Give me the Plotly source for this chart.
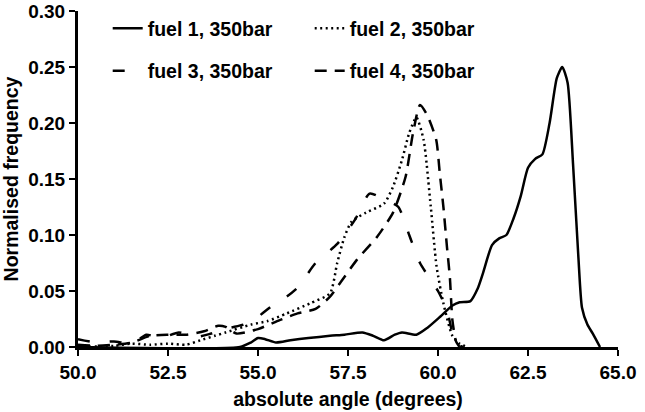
import plotly.graph_objects as go

# ---- data ----
f1_x = [50.0, 54.5, 54.8, 55.0, 55.2, 55.5, 55.9, 56.4, 57.0, 57.4, 57.9, 58.2, 58.5, 58.8, 59.0, 59.4,
        59.7, 60.06, 60.4, 60.6, 60.9, 61.1, 61.25, 61.5, 61.7, 61.9, 62.1, 62.3, 62.5, 62.7, 62.9,
        63.1, 63.3, 63.45, 63.6, 63.75, 63.9, 64.0, 64.15, 64.3, 64.5]
f1_y = [0.0, 0.0, 0.004, 0.008, 0.007, 0.004, 0.006, 0.008, 0.010, 0.011, 0.013, 0.010, 0.006, 0.011, 0.013, 0.011,
        0.017, 0.027, 0.037, 0.040, 0.041, 0.052, 0.066, 0.091, 0.097, 0.100, 0.115, 0.135, 0.160, 0.168, 0.172,
        0.200, 0.240, 0.250, 0.236, 0.164, 0.080, 0.035, 0.020, 0.012, 0.0]

f2_x = [50.0, 51.0, 51.5, 52.0, 52.5, 53.0, 53.4, 53.8, 54.1, 54.8, 55.25, 55.8, 56.45, 57.0, 57.2, 57.4,
        57.6, 58.0, 58.5, 58.75, 59.0, 59.2, 59.4, 59.6, 59.8, 59.96, 60.15, 60.4, 60.6, 60.8]
f2_y = [0.0, 0.001, 0.003, 0.002, 0.003, 0.002, 0.006, 0.010, 0.013, 0.020, 0.023, 0.030, 0.039, 0.048, 0.075, 0.098,
        0.112, 0.120, 0.128, 0.143, 0.167, 0.191, 0.205, 0.185, 0.125, 0.072, 0.039, 0.010, 0.003, 0.0]

f3_x = [50.0, 50.5, 51.0, 51.5, 51.9, 52.3, 52.8, 53.3, 53.7, 54.2, 54.6, 55.0, 55.4, 55.8, 56.1, 56.6,
        57.2, 57.7, 58.1, 58.5, 58.9, 59.2, 59.5, 60.0, 60.25, 60.4, 60.5, 60.7]
f3_y = [0.007, 0.004, 0.005, 0.003, 0.011, 0.008, 0.013, 0.009, 0.012, 0.017, 0.020, 0.027, 0.037, 0.045, 0.053, 0.075,
        0.092, 0.114, 0.137, 0.132, 0.125, 0.100, 0.075, 0.050, 0.033, 0.012, 0.003, 0.0]

f4_x = [50.0, 50.5, 51.0, 51.5, 52.0, 52.5, 53.0, 53.5, 53.9, 54.1, 54.4, 55.0, 55.6, 56.1, 56.6, 57.0,
        57.3, 57.75, 58.3, 58.75, 59.1, 59.3, 59.5, 59.7, 59.95, 60.05, 60.15, 60.25, 60.33, 60.4, 60.5, 60.6]
f4_y = [0.002, 0.001, 0.002, 0.004, 0.010, 0.011, 0.011, 0.014, 0.019, 0.018, 0.012, 0.016, 0.024, 0.030, 0.034, 0.045,
        0.058, 0.078, 0.098, 0.120, 0.152, 0.190, 0.216, 0.207, 0.185, 0.155, 0.125, 0.089, 0.062, 0.024, 0.005, 0.0]

names = ["fuel 1, 350bar", "fuel 2, 350bar", "fuel 3, 350bar", "fuel 4, 350bar"]

x_ticks = [50.0, 52.5, 55.0, 57.5, 60.0, 62.5, 65.0]
y_ticks = [0.0, 0.05, 0.10, 0.15, 0.20, 0.25, 0.30]

FONT = "Liberation Sans, Arial, sans-serif"

fig = go.Figure()
series = [
    (f1_x, f1_y, names[0], dict(color="black", width=2.5, dash="solid"), "legend"),
    (f2_x, f2_y, names[1], dict(color="black", width=2.5, dash="2px,3.5px"), "legend"),
    (f3_x, f3_y, names[2], dict(color="black", width=2.5, dash="12px,20px"), "legend2"),
    (f4_x, f4_y, names[3], dict(color="black", width=2.5, dash="12px,8px"), "legend2"),
]
for xs, ys, nm, ln, lg in series:
    ln = dict(ln, shape="spline", smoothing=0.6)
    fig.add_trace(go.Scatter(x=xs, y=ys, name=nm, mode="lines", line=ln, legend=lg))

lfont = dict(family=FONT, size=19.5, color="black", weight="bold")
legend_common = dict(
    orientation="h", xanchor="left", yanchor="middle",
    font=lfont,
    bgcolor="rgba(0,0,0,0)", entrywidth=157, entrywidthmode="pixels",
    itemwidth=30, traceorder="normal",
)
tfont = dict(family=FONT, size=19, color="black", weight="bold")
fig.update_layout(
    width=645, height=412,
    margin=dict(l=78, r=27, t=11, b=65, autoexpand=False),
    paper_bgcolor="white", plot_bgcolor="white",
    font=dict(family=FONT, size=19, color="black", weight="bold"),
    legend=dict(legend_common, x=0.055, y=0.948),
    legend2=dict(legend_common, x=0.055, y=0.821),
    xaxis=dict(
        range=[50, 65], tickvals=x_ticks, tickformat=".1f", automargin=False,
        showline=True, linecolor="black", linewidth=3,
        ticks="outside", ticklen=6, tickwidth=2, tickcolor="black",
        showgrid=False, zeroline=False,
        tickfont=tfont,
        title=dict(text="absolute angle (degrees)", standoff=11,
                   font=dict(family=FONT, size=19.5, color="black", weight="bold")),
    ),
    yaxis=dict(
        range=[0, 0.30], tickvals=y_ticks, tickformat=".2f", automargin=False,
        showline=True, linecolor="black", linewidth=3,
        ticks="outside", ticklen=6, tickwidth=2, tickcolor="black",
        showgrid=False, zeroline=False,
        tickfont=tfont,
        title=dict(text="Normalised frequency", standoff=6,
                   font=dict(family=FONT, size=19.5, color="black", weight="bold")),
    ),
)

fig.write_html("out.html")
